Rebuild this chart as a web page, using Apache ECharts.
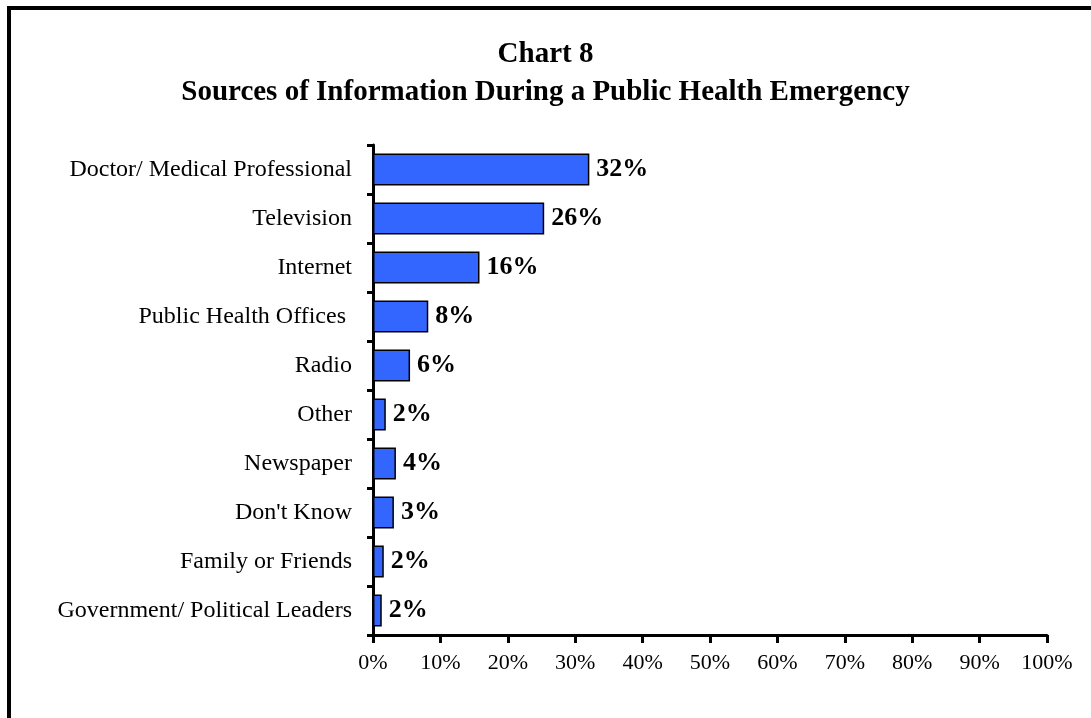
<!DOCTYPE html>
<html>
<head>
<meta charset="utf-8">
<script src="https://cdn.jsdelivr.net/npm/echarts@6/dist/echarts.min.js"></script>
<style>
  html, body { margin: 0; padding: 0; background: #fff; }
  #main { width: 1091px; height: 718px; }
</style>
</head>
<body>
<div id="main"></div>
<script>
// categories top to bottom
const sources = [
  'Doctor/ Medical Professional',
  'Television',
  'Internet',
  'Public Health Offices ',
  'Radio',
  'Other',
  'Newspaper',
  "Don't Know",
  'Family or Friends',
  'Government/ Political Leaders'
]
// bar lengths (percent)
const shares = [32.1, 25.4, 15.8, 8.2, 5.5, 1.9, 3.4, 3.1, 1.6, 1.3]
// the labels printed next to the bars
const shareLabels = ['32%', '26%', '16%', '8%', '6%', '2%', '4%', '3%', '2%', '2%']

const serif = '"Liberation Serif", "Times New Roman", serif'
const chart = echarts.init(document.getElementById('main'))

chart.setOption({
  backgroundColor: '#fff',
  animation: false,
  title: {
    text: 'Chart 8\nSources of Information During a Public Health Emergency',
    left: 'center',
    top: 31,
    textStyle: {
      fontFamily: serif,
      fontWeight: 'bold',
      fontSize: 29,
      color: '#000',
      lineHeight: 38
    }
  },
  graphic: [{
    type: 'rect',
    shape: { x: 9, y: 8, width: 1200, height: 800 },
    style: { fill: 'none', stroke: '#000', lineWidth: 4 },
    silent: true
  }],
  grid: { left: 373, right: 44, top: 145, bottom: 83 },
  xAxis: {
    type: 'value',
    min: 0,
    max: 100,
    interval: 10,
    splitLine: { show: false },
    axisLine: { show: true, lineStyle: { color: '#000', width: 3 } },
    axisTick: { show: true, length: 8, lineStyle: { color: '#000', width: 3 } },
    axisLabel: {
      formatter: '{value}%',
      fontFamily: serif,
      fontSize: 22,
      color: '#000',
      margin: 17
    }
  },
  yAxis: {
    type: 'category',
    data: sources,
    inverse: true,
    axisLine: { show: true, lineStyle: { color: '#000', width: 3 } },
    axisTick: { show: true, length: 6, lineStyle: { color: '#000', width: 3 } },
    axisLabel: {
      fontFamily: serif,
      fontSize: 24,
      color: '#000',
      margin: 21
    }
  },
  series: [{
    type: 'bar',
    data: shares,
    barWidth: 32,
    itemStyle: { color: '#3366FF', borderColor: '#000', borderWidth: 1.5 },
    label: {
      show: true,
      position: 'right',
      distance: 7,
      formatter: p => shareLabels[p.dataIndex],
      fontFamily: serif,
      fontWeight: 'bold',
      fontSize: 26,
      color: '#000'
    }
  }]
})
</script>
</body>
</html>
